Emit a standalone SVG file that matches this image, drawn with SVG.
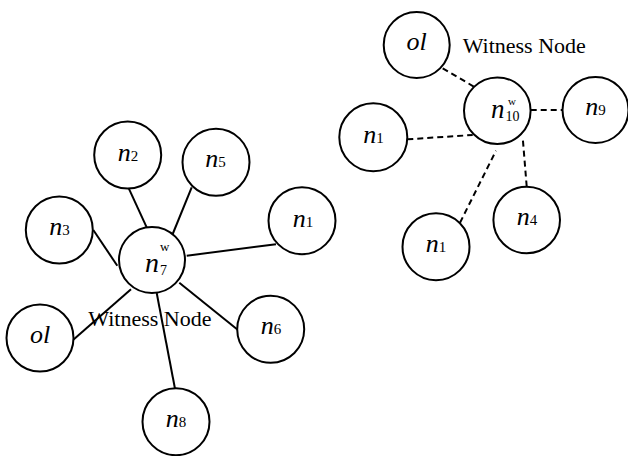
<svg xmlns="http://www.w3.org/2000/svg" width="628" height="456" viewBox="0 0 628 456">
<style>
  .node circle { fill: #fff; stroke: #000; stroke-width: 2; }
  text { font-family: 'Liberation Serif', 'DejaVu Serif', serif; fill: #000; }
  .lbl { font-size: 26px; font-style: italic; text-anchor: middle; }
  .sub { font-style: normal; font-size: 15px; }
  .cap { font-size: 22px; }
  .solid line { stroke: #000; stroke-width: 2; }
  .dash line { stroke: #000; stroke-width: 2; stroke-dasharray: 6 4; }
</style>
<rect width="628" height="456" fill="#fff"/>
<g id="connectors">
  <g class="solid">
    <line x1="128.3" y1="187.3" x2="146.7" y2="227.3"/>
    <line x1="191.7" y1="187.3" x2="172.3" y2="235"/>
    <line x1="276" y1="244.3" x2="186.7" y2="255.7"/>
    <line x1="93.3" y1="230" x2="117.3" y2="265.7"/>
    <line x1="73" y1="340" x2="131" y2="289.3"/>
    <line x1="238" y1="330" x2="179.3" y2="282.7"/>
    <line x1="175" y1="388.7" x2="156.7" y2="293"/>
  </g>
  <g class="dash">
    <line x1="442.7" y1="68.3" x2="474" y2="86.7"/>
    <line x1="407.3" y1="139.3" x2="472.7" y2="135"/>
    <line x1="530.7" y1="110" x2="562" y2="110"/>
    <line x1="460" y1="222.7" x2="496" y2="150.7"/>
    <line x1="526.7" y1="186.5" x2="522.7" y2="137.5"/>
  </g>
</g>
<g id="n7" class="node">
  <circle cx="152" cy="260" r="33"/>
  <text class="lbl" x="145" y="272" style="text-anchor:start;font-size:28px">n</text>
  <text class="lbl" x="160" y="275" style="text-anchor:start;font-style:normal;font-size:14px">7</text>
  <text class="lbl" x="160" y="251" style="text-anchor:start;font-style:normal;font-size:13px">w</text>
</g>
<g id="n2" class="node">
  <circle cx="127.7" cy="155" r="33.5"/>
  <text class="lbl" x="128" y="161">n<tspan class="sub">2</tspan></text>
</g>
<g id="n5" class="node">
  <circle cx="216" cy="162.3" r="33.5"/>
  <text class="lbl" x="215.5" y="167">n<tspan class="sub">5</tspan></text>
</g>
<g id="n1a" class="node">
  <circle cx="302" cy="220.7" r="33.5"/>
  <text class="lbl" x="303" y="226.7">n<tspan class="sub">1</tspan></text>
</g>
<g id="n3" class="node">
  <circle cx="59.3" cy="230" r="33.5"/>
  <text class="lbl" x="59.5" y="235">n<tspan class="sub">3</tspan></text>
</g>
<g id="ol1" class="node">
  <circle cx="40" cy="338" r="33.5"/>
  <text class="lbl" x="40" y="343">ol</text>
</g>
<g id="n6" class="node">
  <circle cx="270.7" cy="329.3" r="33.5"/>
  <text class="lbl" x="271" y="334">n<tspan class="sub">6</tspan></text>
</g>
<g id="n8" class="node">
  <circle cx="176" cy="421.7" r="33.5"/>
  <text class="lbl" x="176" y="427">n<tspan class="sub">8</tspan></text>
</g>
<text class="cap" x="88.3" y="326">Witness Node</text>
<g id="n10" class="node">
  <circle cx="497.3" cy="110.7" r="33.3"/>
  <text class="lbl" x="491" y="118.3" style="text-anchor:start;font-size:27px">n</text>
  <text class="lbl" x="505.5" y="121" style="text-anchor:start;font-style:normal;font-size:14px">10</text>
  <text class="lbl" x="508" y="105" style="text-anchor:start;font-style:normal;font-size:11px">w</text>
</g>
<g id="ol2" class="node">
  <circle cx="416.7" cy="45" r="33"/>
  <text class="lbl" x="416.7" y="50">ol</text>
</g>
<g id="n9" class="node">
  <circle cx="595.5" cy="110" r="33"/>
  <text class="lbl" x="595.5" y="115">n<tspan class="sub">9</tspan></text>
</g>
<g id="n1b" class="node">
  <circle cx="373.3" cy="137.3" r="34"/>
  <text class="lbl" x="373.5" y="142.7">n<tspan class="sub">1</tspan></text>
</g>
<g id="n1c" class="node">
  <circle cx="436" cy="246.7" r="33.5"/>
  <text class="lbl" x="436" y="252">n<tspan class="sub">1</tspan></text>
</g>
<g id="n4" class="node">
  <circle cx="526.7" cy="220" r="33.3"/>
  <text class="lbl" x="527" y="225">n<tspan class="sub">4</tspan></text>
</g>
<text class="cap" x="462.7" y="53.3">Witness Node</text>
</svg>
